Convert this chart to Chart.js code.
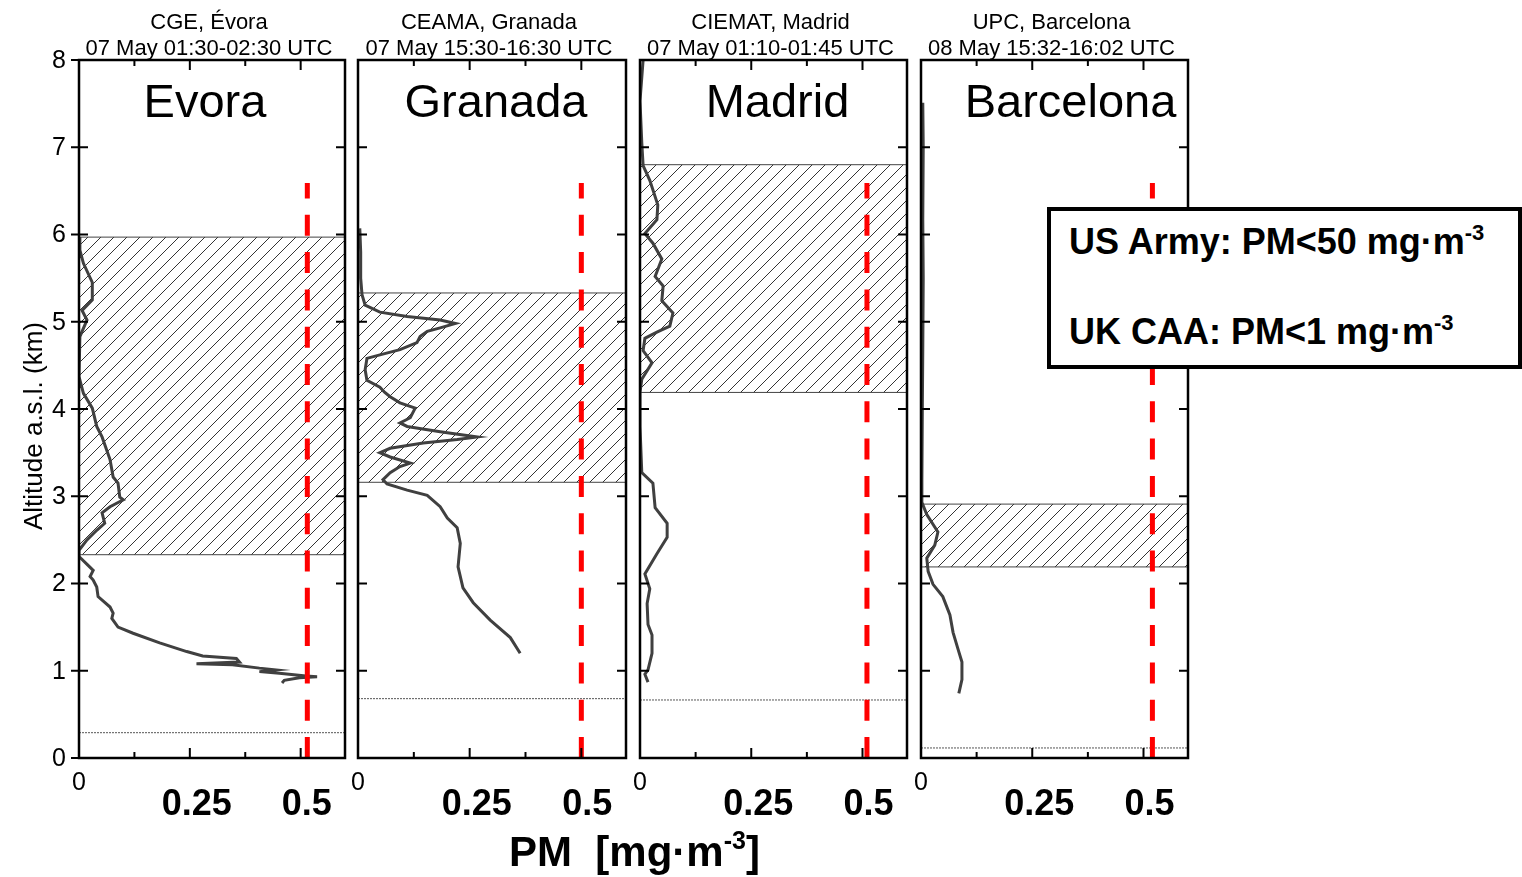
<!DOCTYPE html>
<html>
<head>
<meta charset="utf-8">
<title>PM profiles, 07-08 May</title>
<script src="https://cdn.jsdelivr.net/npm/chart.js"></script>
<style>
  body { margin: 0; width: 1522px; height: 877px; position: relative; overflow: hidden; background: #fff;
         font-family: "Liberation Sans", Arial, sans-serif; }
  canvas { position: absolute; top: 0; }
  #limits { position: absolute; left: 1047px; top: 207px; width: 475px; height: 162px; box-sizing: border-box;
            border: 4px solid #000; background: #fff; font-weight: bold; font-size: 36px; }
  #limits div { position: absolute; left: 18px; line-height: 36px; white-space: nowrap; }
  #limits sup, #xtitle sup { line-height: 0; }
  #limits sup { font-size: 22px; vertical-align: 14px; }
  #xtitle { position: absolute; left: 509px; top: 831px; font-weight: bold; font-size: 42px; line-height: 42px; white-space: nowrap; }
  #xtitle sup { font-size: 25px; vertical-align: 17px; }
</style>
</head>
<body>
<canvas id="p0"></canvas>
<canvas id="p1"></canvas>
<canvas id="p2"></canvas>
<canvas id="p3"></canvas>
<div id="limits">
  <div style="top:13px">US Army: PM&lt;50 mg·m<sup>-3</sup></div>
  <div style="top:103px">UK CAA: PM&lt;1 mg·m<sup>-3</sup></div>
</div>
<div id="xtitle">PM&nbsp;&nbsp;[mg·m<sup>-3</sup>]</div>

<script>
// ---- data ----
const stations = ['Evora', 'Granada', 'Madrid', 'Barcelona'];
const headers = [
  ['CGE, Évora', '07 May 01:30-02:30 UTC'],
  ['CEAMA, Granada', '07 May 15:30-16:30 UTC'],
  ['CIEMAT, Madrid', '07 May 01:10-01:45 UTC'],
  ['UPC, Barcelona', '08 May 15:32-16:02 UTC']
];
const yTicks = [0, 1, 2, 3, 4, 5, 6, 7, 8];
const xTicks = [0.125, 0.25, 0.375, 0.5];
const xTickLabels = ['0', '0.25', '0.5'];

const evoraAlt = [5.97, 5.82, 5.67, 5.45, 5.25, 5.13, 5.02, 4.83, 4.37, 4.18, 4.01, 3.80, 3.68, 3.42, 3.22, 3.15,
  2.99, 2.96, 2.88, 2.81, 2.69, 2.61, 2.50, 2.38, 2.31, 2.21, 2.15, 2.08, 2.04, 1.96, 1.85, 1.73, 1.66, 1.60,
  1.50, 1.43, 1.32, 1.22, 1.17, 1.14, 1.10, 1.08, 1.07, 1.03, 1.01, 0.99, 0.97, 0.94, 0.93, 0.92, 0.89, 0.86];
const evoraPM = [0.000, 0.002, 0.010, 0.030, 0.030, 0.007, 0.018, 0.002, 0.000, 0.010, 0.030, 0.040, 0.052, 0.070,
  0.077, 0.088, 0.092, 0.100, 0.070, 0.052, 0.058, 0.040, 0.018, 0.000, 0.000, 0.020, 0.032, 0.025, 0.032, 0.040,
  0.043, 0.070, 0.077, 0.074, 0.088, 0.122, 0.182, 0.243, 0.279, 0.355, 0.362, 0.265, 0.346, 0.407, 0.445, 0.407,
  0.452, 0.512, 0.537, 0.497, 0.463, 0.458];

const granadaAlt = [6.07, 5.80, 5.50, 5.31, 5.19, 5.11, 5.06, 5.02, 4.98, 4.93, 4.89, 4.83, 4.76, 4.68, 4.62, 4.58,
  4.45, 4.33, 4.25, 4.19, 4.14, 4.07, 4.01, 3.90, 3.84, 3.80, 3.74, 3.68, 3.65, 3.61, 3.55, 3.50, 3.45, 3.38, 3.34,
  3.27, 3.19, 3.14, 3.07, 3.01, 2.88, 2.75, 2.64, 2.46, 2.19, 1.95, 1.78, 1.58, 1.38, 1.20];
const granadaPM = [0.004, 0.006, 0.006, 0.009, 0.016, 0.049, 0.110, 0.184, 0.218, 0.184, 0.155, 0.139, 0.132, 0.094,
  0.049, 0.020, 0.016, 0.020, 0.049, 0.060, 0.072, 0.094, 0.128, 0.117, 0.094, 0.110, 0.184, 0.267, 0.222, 0.146,
  0.072, 0.049, 0.072, 0.117, 0.094, 0.072, 0.056, 0.065, 0.110, 0.155, 0.184, 0.200, 0.222, 0.229, 0.224, 0.235,
  0.258, 0.296, 0.341, 0.363];

const madridAlt = [8.00, 7.53, 7.05, 6.79, 6.62, 6.34, 6.17, 6.01, 5.90, 5.72, 5.52, 5.41, 5.24, 5.10, 4.95, 4.88,
  4.81, 4.67, 4.53, 4.34, 4.19, 3.80, 3.27, 3.15, 2.87, 2.69, 2.53, 2.34, 2.11, 1.94, 1.77, 1.53, 1.41, 1.20, 1.01,
  0.96, 0.87];
const madridPM = [0.007, 0.000, 0.004, 0.007, 0.022, 0.040, 0.038, 0.011, 0.029, 0.049, 0.034, 0.052, 0.049, 0.074,
  0.067, 0.038, 0.011, 0.007, 0.027, 0.004, 0.000, 0.000, 0.004, 0.029, 0.034, 0.061, 0.061, 0.038, 0.011, 0.022,
  0.016, 0.018, 0.027, 0.027, 0.018, 0.011, 0.018];

const barcelonaAlt = [7.51, 7.00, 6.17, 5.50, 4.68, 4.00, 3.19, 2.93, 2.79, 2.59, 2.44, 2.29, 2.14, 1.99, 1.85, 1.64,
  1.44, 1.25, 1.10, 0.90, 0.74];
const barcelonaPM = [0.004, 0.005, 0.004, 0.005, 0.004, 0.003, 0.002, 0.002, 0.013, 0.038, 0.031, 0.013, 0.016,
  0.027, 0.049, 0.065, 0.072, 0.083, 0.092, 0.092, 0.085];

const profileAlt = [evoraAlt, granadaAlt, madridAlt, barcelonaAlt];
const profilePM = [evoraPM, granadaPM, madridPM, barcelonaPM];

const dustTop = [5.97, 5.33, 6.80, 2.91];   // km
const dustBase = [2.33, 3.16, 4.19, 2.19];  // km
const groundAlt = [0.29, 0.68, 0.665, 0.115];
const limitPM = [0.515, 0.5, 0.51, 0.52];   // red dashed line
const limitTop = 6.59;

// ---- layout ----
const plotL = [79, 358, 640, 921];
const plotR = [345, 626, 907, 1188];
const plotTop = 60, plotBottom = 758, H = 877;
const nameShift = [-7, 4, 4, 16];
const FONT = '"Liberation Sans", Arial, sans-serif';

function hatchPattern(ctx) {
  const t = document.createElement('canvas');
  t.width = 13; t.height = 13;
  const c = t.getContext('2d');
  c.strokeStyle = '#000';
  c.lineWidth = 0.8;
  c.beginPath();
  c.moveTo(0, 13); c.lineTo(13, 0);
  c.moveTo(-2, 2); c.lineTo(2, -2);
  c.moveTo(11, 15); c.lineTo(15, 11);
  c.stroke();
  return ctx.createPattern(t, 'repeat');
}

function decor(i) {
  return {
    id: 'decor' + i,
    afterDraw(chart) {
      const { ctx, chartArea: a } = chart;
      const x = chart.scales.x, y = chart.scales.y;
      ctx.save();
      ctx.strokeStyle = '#000';
      ctx.lineWidth = 2.5;
      ctx.strokeRect(a.left, a.top, a.right - a.left, a.bottom - a.top);
      ctx.lineWidth = 2;
      ctx.beginPath();
      xTicks.forEach(v => {
        const px = x.getPixelForValue(v);
        const major = Math.abs(v / 0.25 - Math.round(v / 0.25)) < 1e-9;
        const len = major ? 10 : 6;
        ctx.moveTo(px, a.bottom); ctx.lineTo(px, a.bottom - len);
        ctx.moveTo(px, a.top); ctx.lineTo(px, a.top + len);
      });
      yTicks.forEach(v => {
        const py = y.getPixelForValue(v);
        ctx.moveTo(a.left - (i === 0 ? 8 : 0), py); ctx.lineTo(a.left + 9, py);
        ctx.moveTo(a.right, py); ctx.lineTo(a.right - 9, py);
      });
      ctx.stroke();

      ctx.fillStyle = '#000';
      ctx.textBaseline = 'alphabetic';
      ctx.textAlign = 'center';
      const cx = (a.left + a.right) / 2 - 3;
      ctx.font = '22px ' + FONT;
      ctx.fillText(headers[i][0], cx, 29);
      ctx.fillText(headers[i][1], cx, 55);
      ctx.font = '47px ' + FONT;
      ctx.fillText(stations[i], (a.left + a.right) / 2 + nameShift[i], 117);

      ctx.font = '25px ' + FONT;
      ctx.fillText(xTickLabels[0], x.getPixelForValue(0), 790);
      ctx.font = 'bold 36px ' + FONT;
      ctx.fillText(xTickLabels[1], x.getPixelForValue(0.25) + 7, 815);
      ctx.fillText(xTickLabels[2], x.getPixelForValue(0.5) + 6, 815);

      if (i === 0) {
        ctx.font = '25px ' + FONT;
        ctx.textAlign = 'right';
        ctx.textBaseline = 'middle';
        yTicks.forEach(v => ctx.fillText(String(v), 66, y.getPixelForValue(v) + 1));
        ctx.translate(42, 426);
        ctx.rotate(-Math.PI / 2);
        ctx.textAlign = 'center';
        ctx.textBaseline = 'alphabetic';
        ctx.font = '26px ' + FONT;
        ctx.fillText('Altitude a.s.l. (km)', 0, 0);
      }
      ctx.restore();
    }
  };
}

stations.forEach((name, i) => {
  const canvas = document.getElementById('p' + i);
  const left = i === 0 ? 0 : plotL[i] - 14;
  const width = plotR[i] + 14 - left;
  canvas.width = width; canvas.height = H;
  canvas.style.left = left + 'px';
  canvas.style.width = width + 'px'; canvas.style.height = H + 'px';
  const ctx = canvas.getContext('2d');

  const profile = profileAlt[i].map((alt, k) => ({ x: profilePM[i][k], y: alt }));
  const box = [
    { x: 0, y: dustBase[i] }, { x: 0.6, y: dustBase[i] }, { x: 0.6, y: dustTop[i] },
    { x: 0, y: dustTop[i] }, { x: 0, y: dustBase[i] }
  ];

  new Chart(ctx, {
    type: 'scatter',
    data: {
      datasets: [
        { data: [{ x: limitPM[i], y: 0 }, { x: limitPM[i], y: limitTop }], showLine: true,
          borderColor: '#ff0000', borderWidth: 5, borderDash: [21, 16.3], pointRadius: 0, order: 0 },
        { data: profile, showLine: true, borderColor: '#404040', borderWidth: 3, pointRadius: 0,
          tension: 0, order: 1 },
        { data: [{ x: 0, y: groundAlt[i] }, { x: 0.6, y: groundAlt[i] }], showLine: true,
          borderColor: '#555', borderWidth: 1, borderDash: [2, 1], pointRadius: 0, order: 2 },
        { data: box, showLine: true, fill: 'shape', backgroundColor: hatchPattern(ctx),
          borderColor: '#444', borderWidth: 1, pointRadius: 0, order: 3 }
      ]
    },
    options: {
      responsive: false,
      animation: false,
      events: [],
      layout: { padding: { left: plotL[i] - left, right: 14, top: plotTop, bottom: H - plotBottom } },
      scales: {
        x: { type: 'linear', min: 0, max: 0.6, display: false },
        y: { type: 'linear', min: 0, max: 8, display: false }
      },
      plugins: { legend: { display: false }, tooltip: { enabled: false } }
    },
    plugins: [decor(i)]
  });
});
</script>
</body>
</html>
